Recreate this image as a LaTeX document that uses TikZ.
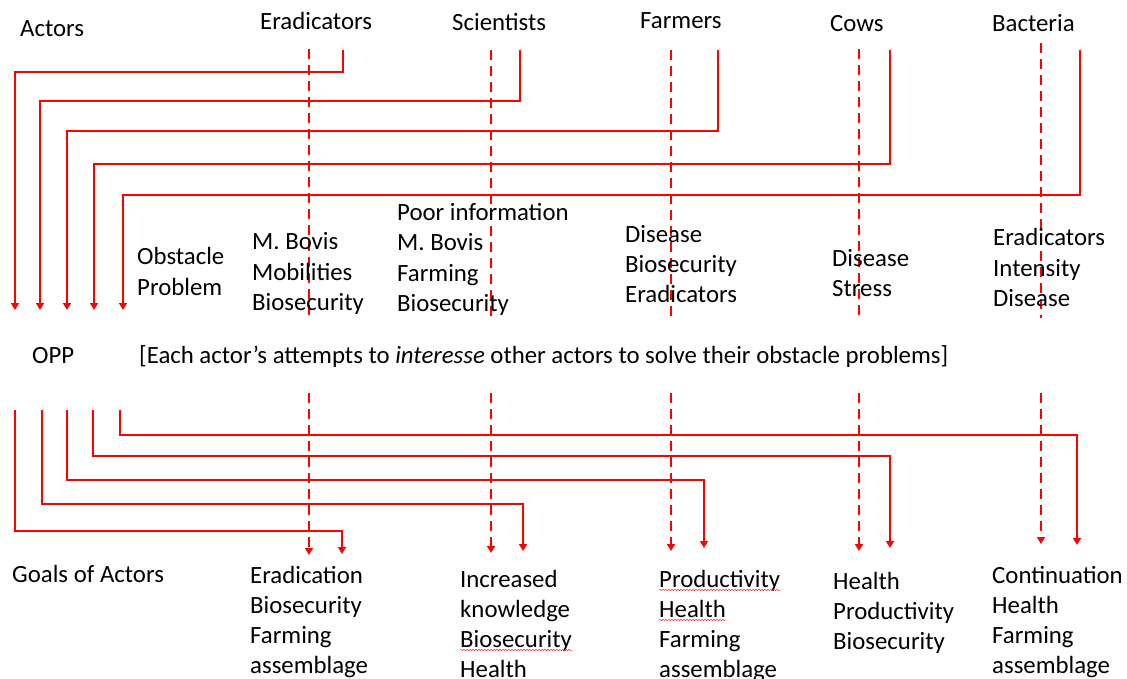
\documentclass[tikz,border=0pt]{standalone}
\usepackage{fontspec}
\setmainfont{Carlito}
\usetikzlibrary{arrows.meta,decorations.pathmorphing}
\begin{document}
\begin{tikzpicture}[x=1pt,y=-1pt,
  txt/.style={anchor=base west,inner sep=0pt,font=\fontsize{24.8}{30}\selectfont},
  link/.style={draw=red,line width=1.5pt},
  guide/.style={draw=red,line width=1.5pt,dash pattern=on 10pt off 6pt},
  tip/.style={-{Triangle[width=8pt,length=7pt]}},
  spell/.style={draw=red!80,line width=0.5pt,decorate,
    decoration={snake,amplitude=0.7pt,segment length=3pt}}]
\useasboundingbox (0,0) rectangle (1127,679);

% ---- actor headings
\node[txt] (actors) at (20,37) {Actors};
\node[txt] (hE) at (260,30) {Eradicators};
\node[txt] (hS) at (452,31) {Scientists};
\node[txt] (hF) at (640,29) {Farmers};
\node[txt] (hC) at (830,32) {Cows};
\node[txt] (hB) at (992,32) {Bacteria};

% ---- dashed guides, upper half
\foreach \n/\x/\t in {E/309/49, S/491/50, F/671/50, C/859/49, B/1041/43}{
  \coordinate (gt\n) at (\x,\t);
  \coordinate (gb\n) at (\x,318);
  \draw[guide] (gt\n) -- (gb\n);
}

% ---- each actor's problem routed back to the left
\foreach \n/\sx/\hy/\ex in {E/343/72/15, S/520/101/40, F/718/131/67, C/890/164/94, B/1080/195/123}{
  \coordinate (os\n) at (\sx,50);
  \coordinate (oc\n) at (\sx,\hy);
  \coordinate (oe\n) at (\ex,310);
  \draw[link,tip] (os\n) -- (oc\n) -| (oe\n);
}

% ---- obstacle problems
\foreach \t [count=\i from 0] in {Obstacle,Problem}
  \node[txt] (obL\i) at (137,265+30*\i) {\t};
\foreach \t [count=\i from 0] in {M. Bovis,Mobilities,Biosecurity}
  \node[txt] (obE\i) at (252,250+30*\i) {\t};
\foreach \t [count=\i from 0] in {Poor information,M. Bovis,Farming,Biosecurity}
  \node[txt] (obS\i) at (397,221+30*\i) {\t};
\foreach \t [count=\i from 0] in {Disease,Biosecurity,Eradicators}
  \node[txt] (obF\i) at (625,242+30*\i) {\t};
\foreach \t [count=\i from 0] in {Disease,Stress}
  \node[txt] (obC\i) at (832,266+30*\i) {\t};
\foreach \t [count=\i from 0] in {Eradicators,Intensity,Disease}
  \node[txt] (obB\i) at (993,246+30*\i) {\t};

% ---- obligatory passage point
\node[txt] (opp) at (32,363) {OPP};
\node[txt] (stmt) at (139,363) {[Each actor’s attempts to \textit{interesse} other actors to solve their obstacle problems]};

% ---- dashed guides, lower half
\foreach \n/\x/\e in {E/309/555, S/491/553, F/671/551, C/859/551, B/1041/544}{
  \coordinate (lt\n) at (\x,393);
  \coordinate (lb\n) at (\x,\e);
  \draw[guide,tip] (lt\n) -- (lb\n);
}

% ---- routes from the passage point to each actor's goals
\foreach \n/\sx/\hy/\ex/\ey in {E/15/531/342/554, S/42/504/523/551, F/67/480/704/548, C/93/456/890/548, B/120/435/1077/545}{
  \coordinate (ps\n) at (\sx,410);
  \coordinate (pc\n) at (\sx,\hy);
  \coordinate (pe\n) at (\ex,\ey);
  \draw[link,tip] (ps\n) -- (pc\n) -| (pe\n);
}

% ---- goals
\node[txt] (goals) at (12,582) {Goals of Actors};
\foreach \t [count=\i from 0] in {Eradication,Biosecurity,Farming,assemblage}
  \node[txt] (gE\i) at (250,583+30*\i) {\t};
\foreach \t [count=\i from 0] in {Increased,knowledge,Biosecurity,Health}
  \node[txt] (gS\i) at (460,587+30*\i) {\t};
\foreach \t [count=\i from 0] in {Productivity,Health,Farming,assemblage}
  \node[txt] (gF\i) at (659,587+30*\i) {\t};
\foreach \t [count=\i from 0] in {Health,Productivity,Biosecurity}
  \node[txt] (gC\i) at (833,589+30*\i) {\t};
\foreach \t [count=\i from 0] in {Continuation,Health,Farming,assemblage}
  \node[txt] (gB\i) at (992,583+30*\i) {\t};

% ---- wavy underlines
\foreach \m in {gS2,gF0,gF1}
  \draw[spell] ([yshift=-3pt]\m.base west) -- ([yshift=-3pt]\m.base east);
\end{tikzpicture}
\end{document}
